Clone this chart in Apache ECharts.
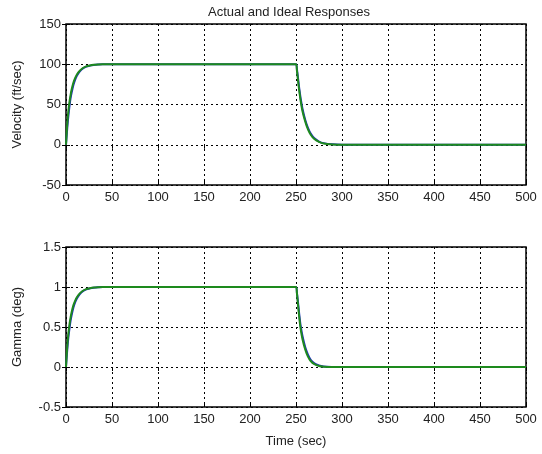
<!DOCTYPE html>
<html>
<head>
<meta charset="utf-8">
<script src="https://cdn.jsdelivr.net/npm/echarts@6/dist/echarts.min.js"></script>
<style>
  html, body { margin: 0; padding: 0; background: #fff; }
  #chart { width: 542px; height: 454px; }
</style>
</head>
<body>
<div id="chart"></div>
<script>
// time samples (sec)
const time = [0, 1, 2, 3, 4, 5, 6, 8, 10, 12, 15, 18, 22, 26, 30, 35, 40,
  250, 251, 252, 253, 254, 255, 257, 260, 263, 266, 270, 275, 280, 290, 300, 500];

// velocity (ft/sec)
const velIdeal = [0, 20, 35, 46, 55, 62, 68, 77, 83, 87.5, 92, 95, 97.3, 98.5, 99.3, 99.8, 100,
  100, 92, 82, 72, 63, 55, 42, 29, 19, 12.5, 7, 3.5, 1.5, 0.4, 0, 0];
const velActual = [0, 15, 29, 40, 50, 58, 64, 74, 81, 86, 91, 94.5, 97, 98.3, 99.2, 99.7, 100,
  100, 94, 85, 75, 66, 58, 45, 31, 21, 14, 8, 4, 2, 0.5, 0.1, 0];

// gamma (deg)
const gamIdeal = [0, 0.2, 0.35, 0.46, 0.55, 0.62, 0.68, 0.77, 0.83, 0.875, 0.92, 0.95, 0.973, 0.985, 0.993, 0.998, 1,
  1, 0.92, 0.8, 0.68, 0.57, 0.48, 0.35, 0.22, 0.13, 0.075, 0.035, 0.012, 0.004, 0, 0, 0];
const gamActual = [0, 0.16, 0.3, 0.41, 0.5, 0.58, 0.64, 0.74, 0.81, 0.86, 0.91, 0.945, 0.97, 0.983, 0.992, 0.997, 1,
  1, 0.93, 0.83, 0.72, 0.61, 0.52, 0.39, 0.25, 0.155, 0.09, 0.045, 0.018, 0.006, 0.001, 0, 0];

const pairs = (vals) => time.map((t, i) => [t, vals[i]]);

const FONT = "Liberation Sans";
const dotted = { show: true, lineStyle: { color: "#000", type: [2, 3], width: 1 } };
const tick = { show: true, inside: true, length: 4, lineStyle: { color: "#000" } };
const label = { color: "#222", fontSize: 13, fontFamily: FONT };
const nameStyle = { color: "#222", fontSize: 13, fontFamily: FONT };

function xAx(gridIndex, withLabels) {
  return [
    {
      type: "value", gridIndex, min: 0, max: 500, interval: 50,
      axisLine: { show: false, onZero: false },
      axisTick: tick,
      axisLabel: { ...label, show: true, margin: 6 },
      splitLine: dotted,
      name: withLabels ? "Time (sec)" : "",
      nameLocation: "middle", nameGap: 28,
      nameTextStyle: nameStyle
    },
    {
      type: "value", gridIndex, min: 0, max: 500, interval: 50, position: "top",
      axisLine: { show: false }, axisTick: tick, axisLabel: { show: false }, splitLine: { show: false }
    }
  ];
}

function yAx(gridIndex, min, max, interval, name) {
  return [
    {
      type: "value", gridIndex, min, max, interval,
      axisLine: { show: false, onZero: false },
      axisTick: tick,
      axisLabel: { ...label, margin: 5 },
      splitLine: dotted,
      name, nameLocation: "middle", nameGap: 42,
      nameTextStyle: nameStyle
    },
    {
      type: "value", gridIndex, min, max, interval, position: "right",
      axisLine: { show: false }, axisTick: tick, axisLabel: { show: false }, splitLine: { show: false }
    }
  ];
}

function line(name, data, xi, yi, color) {
  return {
    name, type: "line", data, xAxisIndex: xi, yAxisIndex: yi,
    showSymbol: false, smooth: 0.3, animation: false,
    lineStyle: { color, width: 2 }
  };
}

const chart = echarts.init(document.getElementById("chart"));
chart.setOption({
  backgroundColor: "#fff",
  title: {
    text: "Actual and Ideal Responses",
    left: 284, top: 1, textAlign: "center",
    textStyle: { color: "#222", fontSize: 13, fontWeight: "normal", fontFamily: FONT }
  },
  grid: [
    { left: 66, right: 16, top: 24, height: 161, show: true, borderColor: "#000", borderWidth: 1.5, backgroundColor: "transparent" },
    { left: 66, right: 16, top: 247, height: 160, show: true, borderColor: "#000", borderWidth: 1.5, backgroundColor: "transparent" }
  ],
  xAxis: [...xAx(0, false), ...xAx(1, true)],
  yAxis: [...yAx(0, -50, 150, 50, "Velocity (ft/sec)"), ...yAx(1, -0.5, 1.5, 0.5, "Gamma (deg)")],
  series: [
    line("Actual", pairs(velActual), 0, 0, "#2233bb"),
    line("Ideal", pairs(velIdeal), 0, 0, "#1d8a1d"),
    line("Actual", pairs(gamActual), 2, 2, "#2233bb"),
    line("Ideal", pairs(gamIdeal), 2, 2, "#1d8a1d")
  ]
});
</script>
</body>
</html>
